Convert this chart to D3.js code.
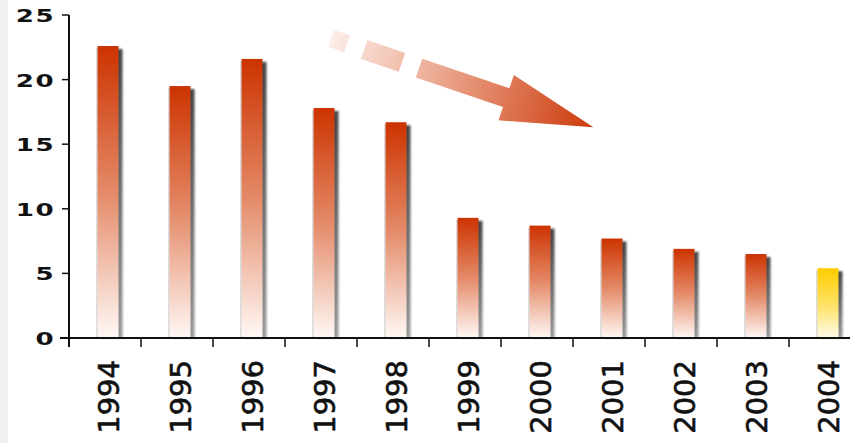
<!DOCTYPE html>
<html>
<head>
<meta charset="utf-8">
<script src="https://cdn.jsdelivr.net/npm/d3@7"></script>
<style>
  body { margin: 0; background: #fff; }
  svg { display: block; }
</style>
</head>
<body>
<div id="chart"></div>
<script>
// data
const years = ["1994", "1995", "1996", "1997", "1998", "1999", "2000", "2001", "2002", "2003", "2004"];
const values = [22.6, 19.5, 21.6, 17.8, 16.7, 9.3, 8.7, 7.7, 6.9, 6.5, 5.4];
const yTicks = [0, 5, 10, 15, 20, 25];
const highlightYear = "2004";

function drawChart() {
    const width = 850, height = 443;
    const left = 69, right = 861, top = 15, bottom = 338;

    const svg = d3.select("#chart").append("svg")
        .attr("width", width)
        .attr("height", height);

    // faint strip down the left edge
    svg.append("rect").attr("x", 0).attr("y", 0).attr("width", 8).attr("height", height)
        .attr("fill", "#f0f0f3");

    const defs = svg.append("defs");

    let addGrad = function (id, stops, x2, y2) {
        const g = defs.append("linearGradient").attr("id", id)
            .attr("x1", 0).attr("y1", 0).attr("x2", x2).attr("y2", y2);
        stops.forEach(s => g.append("stop").attr("offset", s[0]).attr("stop-color", s[1]));
    }
    addGrad("barRed", [[0, "#cc3300"], [0.5, "#e48a68"], [1, "#fff8f5"]], 0, 1);
    addGrad("barYellow", [[0, "#ffcc00"], [0.55, "#ffe36a"], [1, "#fffbea"]], 0, 1);
    addGrad("barShadow", [[0, "#444"], [0.6, "#777"], [1, "#999"]], 0, 1);
    defs.append("filter").attr("id", "soft")
        .append("feGaussianBlur").attr("stdDeviation", 0.8);

    const x = d3.scaleBand().domain(years).range([left, right]);
    const y = d3.scaleLinear().domain([0, 25]).range([bottom, top]);
    const barW = 21;
    const shift = 3;
    let barX = d => x(d) + x.bandwidth() / 2 - barW / 2 + shift;

    // arrow (decoration)
    const arrow = svg.append("g").attr("transform", "translate(330,38) rotate(18.7)");
    const ag = defs.append("linearGradient").attr("id", "arrowGrad")
        .attr("gradientUnits", "userSpaceOnUse")
        .attr("x1", 0).attr("y1", 0).attr("x2", 278).attr("y2", 0);
    ag.append("stop").attr("offset", 0).attr("stop-color", "#fcefea");
    ag.append("stop").attr("offset", 0.45).attr("stop-color", "#eaa188");
    ag.append("stop").attr("offset", 1).attr("stop-color", "#cc3a0a");
    arrow.append("rect").attr("x", 1).attr("y", -9).attr("width", 17).attr("height", 18).attr("fill", "url(#arrowGrad)");
    arrow.append("rect").attr("x", 36).attr("y", -10).attr("width", 40).attr("height", 20).attr("fill", "url(#arrowGrad)");
    arrow.append("polygon")
        .attr("points", "94,-10 186,-10 186,-24 278,0 186,24 186,10 94,10")
        .attr("fill", "url(#arrowGrad)");

    const bars = svg.append("g").selectAll("g")
        .data(years)
        .join("g");

    // shadow
    bars.append("rect")
        .attr("x", d => barX(d) + 4)
        .attr("y", (d, i) => y(values[i]) + 3)
        .attr("width", barW)
        .attr("height", (d, i) => bottom - y(values[i]) - 3)
        .attr("fill", "url(#barShadow)")
        .attr("filter", "url(#soft)");
    // faint left edge
    bars.append("rect")
        .attr("x", d => barX(d) - 1.5)
        .attr("y", (d, i) => y(values[i]) + 2)
        .attr("width", 2)
        .attr("height", (d, i) => bottom - y(values[i]) - 2)
        .attr("fill", "#dcdcdc");
    bars.append("rect")
        .attr("x", barX)
        .attr("y", (d, i) => y(values[i]))
        .attr("width", barW)
        .attr("height", (d, i) => bottom - y(values[i]))
        .attr("fill", d => d == highlightYear ? "url(#barYellow)" : "url(#barRed)");

    // y axis
    svg.append("line").attr("x1", left).attr("x2", left).attr("y1", top).attr("y2", bottom + 9)
        .attr("stroke", "#111").attr("stroke-width", 2);
    svg.append("g").selectAll("line")
        .data(yTicks)
        .join("line")
        .attr("x1", left - 7).attr("x2", left)
        .attr("y1", d => y(d)).attr("y2", d => y(d))
        .attr("stroke", "#111").attr("stroke-width", 1.5);
    svg.append("g").selectAll("text")
        .data(yTicks)
        .join("text")
        .attr("transform", d => "translate(55," + (y(d) + 7) + ") scale(1.45,1)")
        .attr("text-anchor", "end")
        .attr("font-family", "DejaVu Sans")
        .attr("font-weight", "bold")
        .attr("font-size", 18)
        .attr("letter-spacing", 1)
        .attr("fill", "#111")
        .text(d => d);

    // x axis
    svg.append("line").attr("x1", left - 9).attr("x2", width).attr("y1", bottom).attr("y2", bottom)
        .attr("stroke", "#111").attr("stroke-width", 2);
    svg.append("g").selectAll("line")
        .data(years.slice(1))
        .join("line")
        .attr("x1", d => x(d)).attr("x2", d => x(d))
        .attr("y1", bottom).attr("y2", bottom + 9)
        .attr("stroke", "#111").attr("stroke-width", 1.5);
    svg.append("g").selectAll("text")
        .data(years)
        .join("text")
        .attr("transform", d => "translate(" + (x(d) + x.bandwidth() / 2 + shift + 11) + ",360) rotate(-90)")
        .attr("text-anchor", "end")
        .attr("font-family", "DejaVu Sans")
        .attr("font-size", 29)
        .attr("stroke", "#111")
        .attr("stroke-width", 0.6)
        .attr("fill", "#111")
        .text(d => d);
}

drawChart();
</script>
</body>
</html>
